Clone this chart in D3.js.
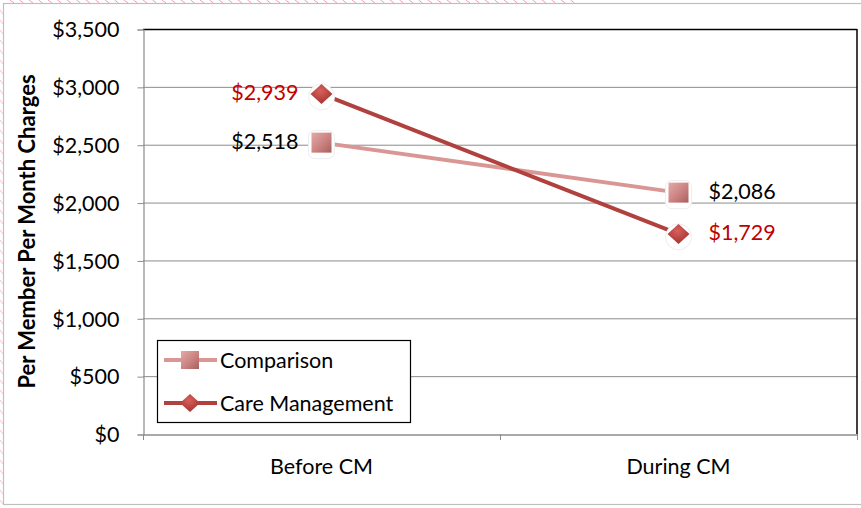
<!DOCTYPE html>
<html><head><meta charset="utf-8">
<script src="https://cdn.jsdelivr.net/npm/d3@7"></script>
<style>
html,body{margin:0;padding:0;background:#fff;}
svg{display:block;font-family:Lato,"Open Sans",sans-serif;}
</style></head>
<body><svg id="c" width="861" height="508"></svg>
<script>
const categories = ["Before CM", "During CM"];
const comparison = [2518, 2086];
const careManagement = [2939, 1729];
const yTicks = [0, 500, 1000, 1500, 2000, 2500, 3000, 3500];
const seriesNames = ["Comparison", "Care Management"];

const FS = 21.5;
const svg = d3.select("#c");
const L = 143, R = 857, T = 29, B = 434;

// outer frame and decorative marks
const deco = svg.append("g");
for (let i = 0; i < 60; i++) {
  const x = 10 + i * 9.5;
  deco.append("line").attr("x1", x).attr("y1", 0).attr("x2", x + 4).attr("y2", 3)
    .attr("stroke", "#f2a0b0").attr("stroke-width", 1);
}
for (let i = 0; i < 50; i++) {
  const y = 10 + i * 10;
  deco.append("line").attr("x1", 0).attr("y1", y).attr("x2", 3).attr("y2", y + 4)
    .attr("stroke", "#f6c0c8").attr("stroke-width", 1);
}
svg.append("rect").attr("x", 3.5).attr("y", 3.5).attr("width", 900).attr("height", 501)
  .attr("fill", "#fff").attr("stroke", "#bfbfbf").attr("stroke-width", 1.2);

const x = d3.scaleBand().domain(categories).range([L, R]);
const y = d3.scaleLinear().domain([0, 3500]).range([B, T]);

// gridlines
svg.append("g").selectAll("line").data(yTicks.slice(1)).join("line")
  .attr("x1", L).attr("x2", R).attr("y1", d => y(d) + 0.5).attr("y2", d => y(d) + 0.5)
  .attr("stroke", d => d === 3500 ? "#000" : "#8c8c8c").attr("stroke-width", d => d === 3500 ? 1.5 : 1);
svg.append("line").attr("x1", R).attr("x2", R).attr("y1", T).attr("y2", B)
  .attr("stroke", "#000").attr("stroke-width", 1.5);

// y axis
const yAxis = svg.append("g").attr("transform", `translate(${L + 0.5},0.5)`)
  .call(d3.axisLeft(y).tickValues(yTicks).tickSize(6).tickPadding(18)
    .tickFormat(d => "$" + d3.format(",")(d)));
yAxis.select(".domain").attr("stroke", "#8c8c8c").attr("stroke-width", 1.2);
yAxis.selectAll(".tick line").attr("stroke", "#8c8c8c");
yAxis.selectAll(".tick text").attr("font-size", FS).attr("fill", "#000")
  .attr("font-family", "Lato,'Open Sans',sans-serif").attr("dy", "0.34em");

// x axis
const xAxis = svg.append("g").attr("transform", `translate(0,${B + 0.5})`)
  .call(d3.axisBottom(x).tickSize(0).tickPadding(24));
xAxis.select(".domain").attr("stroke", "#8c8c8c").attr("stroke-width", 1.5);
xAxis.selectAll(".tick text").attr("font-size", FS).attr("fill", "#000")
  .attr("font-family", "Lato,'Open Sans',sans-serif");
svg.append("g").selectAll("line").data([L, L + x.bandwidth(), R]).join("line")
  .attr("x1", d => d + 0.5).attr("x2", d => d + 0.5).attr("y1", B).attr("y2", B + 6)
  .attr("stroke", "#8c8c8c");

// y title
svg.append("text").attr("transform", `translate(35,${(T + B) / 2 + 0}) rotate(-90)`)
  .attr("text-anchor", "middle").attr("font-size", 22).attr("font-weight", "bold")
  .text("Per Member Per Month Charges");

// defs
const defs = svg.append("defs");
const gSq = defs.append("linearGradient").attr("id", "gsq").attr("x1", 0).attr("y1", 0).attr("x2", 1).attr("y2", 1);
gSq.append("stop").attr("offset", "0%").attr("stop-color", "#e4aaa8");
gSq.append("stop").attr("offset", "60%").attr("stop-color", "#c77f7d");
gSq.append("stop").attr("offset", "100%").attr("stop-color", "#a85f5d");
const gDi = defs.append("radialGradient").attr("id", "gdi").attr("cx", "45%").attr("cy", "35%").attr("r", "70%");
gDi.append("stop").attr("offset", "0%").attr("stop-color", "#d9605c");
gDi.append("stop").attr("offset", "100%").attr("stop-color", "#a0302d");

const cx = d => x(d) + x.bandwidth() / 2;

// lines
const line = d3.line().x((d, i) => cx(categories[i])).y(d => y(d));
svg.append("path").datum(comparison).attr("d", line).attr("fill", "none")
  .attr("stroke", "#d99694").attr("stroke-width", 4);
svg.append("path").datum(careManagement).attr("d", line).attr("fill", "none")
  .attr("stroke", "#b0413e").attr("stroke-width", 4);

function square(g, px, py, s) {
  g.append("rect").attr("x", px - s / 2 - 3).attr("y", py - s / 2 - 2).attr("width", s + 6).attr("height", s + 8)
    .attr("rx", 6).attr("fill", "#fff").attr("stroke", "#eeeeee");
  g.append("rect").attr("x", px - s / 2).attr("y", py - s / 2).attr("width", s).attr("height", s)
    .attr("fill", "url(#gsq)");
}
function diamond(g, px, py, w, h) {
  g.append("circle").attr("cx", px).attr("cy", py + 3).attr("r", w / 2 + 2)
    .attr("fill", "#fff").attr("stroke", "#eeeeee");
  g.append("path").attr("d", `M${px},${py - h / 2}L${px + w / 2},${py}L${px},${py + h / 2}L${px - w / 2},${py}Z`)
    .attr("fill", "url(#gdi)");
}

const mk = svg.append("g");
comparison.forEach((v, i) => square(mk, cx(categories[i]), y(v), 20));
careManagement.forEach((v, i) => diamond(mk, cx(categories[i]), y(v), 22, 20));

// data labels
const lbl = svg.append("g").attr("font-size", FS);
[[comparison, "#000"], [careManagement, "#c00000"]].forEach(([arr, col]) => {
  arr.forEach((v, i) => {
    const px = cx(categories[i]);
    lbl.append("text").attr("x", i === 0 ? px - 23 : px + 30).attr("y", y(v) - 1)
      .attr("dy", "0.35em").attr("text-anchor", i === 0 ? "end" : "start")
      .attr("fill", col).text("$" + d3.format(",")(v));
  });
});

// legend
const lg = svg.append("g");
lg.append("rect").attr("x", 157.5).attr("y", 340.5).attr("width", 253).attr("height", 82)
  .attr("fill", "#fff").attr("stroke", "#000").attr("stroke-width", 1.2);
const lgY = [360, 403];
seriesNames.forEach((n, i) => {
  lg.append("line").attr("x1", 164).attr("x2", 217).attr("y1", lgY[i]).attr("y2", lgY[i])
    .attr("stroke", i === 0 ? "#d99694" : "#b0413e").attr("stroke-width", 4);
  if (i === 0) {
    lg.append("rect").attr("x", 181).attr("y", lgY[i] - 9).attr("width", 18).attr("height", 18).attr("fill", "url(#gsq)");
  } else {
    lg.append("path").attr("d", `M190,${lgY[i] - 9}L200,${lgY[i]}L190,${lgY[i] + 9}L180,${lgY[i]}Z`).attr("fill", "url(#gdi)");
  }
  lg.append("text").attr("x", 220).attr("y", lgY[i]).attr("dy", "0.35em").attr("font-size", FS).text(n);
});
</script></body></html>
